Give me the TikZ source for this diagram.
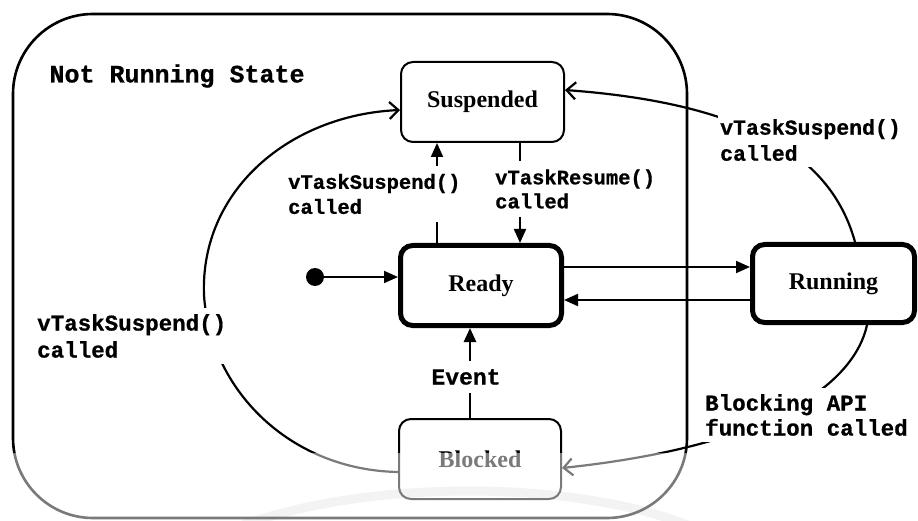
\documentclass[tikz,border=0pt]{standalone}
\usepackage{fontspec}
\setmainfont{Liberation Serif}
\newfontfamily\codefont{Liberation Mono}[BoldFeatures={FakeBold=0.8}]
\usetikzlibrary{arrows.meta}

\begin{document}
\begin{tikzpicture}[x=1pt,y=-1pt,
  statebox/.style={draw, rounded corners=12pt, line width=2pt, align=center,
    font=\fontsize{24}{28}\selectfont\bfseries, inner sep=0pt},
  activebox/.style={statebox, line width=5pt},
  codelabel/.style={font=\codefont\bfseries, align=left, fill=white, inner xsep=2pt},
  solidarrow/.style={line width=2pt, -{Triangle[length=14pt,width=12pt]}},
  openarrow/.style={line width=2.2pt, -{Straight Barb[length=9pt,width=17pt,line width=2.2pt]}}
]
\useasboundingbox (0,0) rectangle (918,521);
\fill[white] (0,0) rectangle (918,521);

% faint swoosh near the bottom edge
\begin{scope}
  \clip (0,0) rectangle (918,521);
  \draw[black!9, line width=9pt] (230,530) .. controls (360,478) and (580,478) .. (700,530);
\end{scope}

% container for the not-running substates
\draw[line width=2.6pt, rounded corners=80pt] (13,14) rectangle (687,518);
\node[font=\codefont\bfseries\fontsize{25}{28}\selectfont, anchor=west] (title) at (46,76) {Not Running State};

% states
\node[statebox, minimum width=163pt, minimum height=80pt] (susp) at (482.5,102) {Suspended};
\node[activebox, minimum width=161pt, minimum height=80pt] (ready) at (481,285.5) {Ready};
\node[activebox, minimum width=162pt, minimum height=78pt] (running) at (833.5,283.5) {Running};
\node[statebox, minimum width=162pt, minimum height=80pt] (blocked) at (480,459) {Blocked};

% initial pseudo-state
\node[circle, fill, minimum size=18pt, inner sep=0pt] (init) at (315,277) {};
\draw[solidarrow] (init) -- (ready.west |- init);

% ready <-> running
\draw[solidarrow] (ready.east |- 0,267) -- (running.west |- 0,267);
\draw[solidarrow] (running.west |- 0,300) -- (ready.east |- 0,300);

% ready <-> suspended
\draw[solidarrow] (ready.north -| 437,0) -- (susp.south -| 437,0);
\draw[solidarrow] (susp.south -| 520,0) -- (ready.north -| 520,0);

% blocked -> ready
\draw[solidarrow, line width=2.6pt] (blocked.north -| 470,0) -- (ready.south -| 470,0);

% curved transitions
\draw[openarrow] (blocked.west |- 0,472) .. controls (290,470) and (210,390) .. (204,295)
  .. controls (200,190) and (290,115) .. (susp.west |- 0,110);
\draw[openarrow] (running.north -| 855,0) .. controls (835,170) and (770,105) .. (susp.east |- 0,90);
\draw[openarrow] (running.south -| 867,0) .. controls (855,380) and (780,445) .. (blocked.east |- 0,468);

% transition labels
\node[codelabel, font=\codefont\bfseries\fontsize{20.5}{25}\selectfont, anchor=west, inner ysep=8pt]
  (lsusp) at (286,194) {vTaskSuspend()\\called};
\node[codelabel, font=\codefont\bfseries\fontsize{20.5}{24}\selectfont, anchor=west, inner ysep=8pt]
  (lres) at (493,189) {vTaskResume()\\called};
\node[codelabel, font=\codefont\bfseries\fontsize{21.5}{26}\selectfont, anchor=west, inner ysep=6pt]
  (lsusp2) at (718,140) {vTaskSuspend()\\called};
\node[codelabel, font=\codefont\bfseries\fontsize{22.5}{27}\selectfont, anchor=west, inner ysep=6pt]
  (lsusp3) at (35,336) {vTaskSuspend()\\called};
\node[codelabel, font=\codefont\bfseries\fontsize{22.5}{25}\selectfont, anchor=west, inner ysep=6pt]
  (lblock) at (703,415) {Blocking API\\function called};
\node[codelabel, font=\codefont\bfseries\fontsize{23}{26}\selectfont, inner ysep=8pt]
  (levent) at (466,377) {Event};

% faded lower band
\fill[white, opacity=0.48] (0,453) rectangle (918,521);
\end{tikzpicture}
\end{document}
